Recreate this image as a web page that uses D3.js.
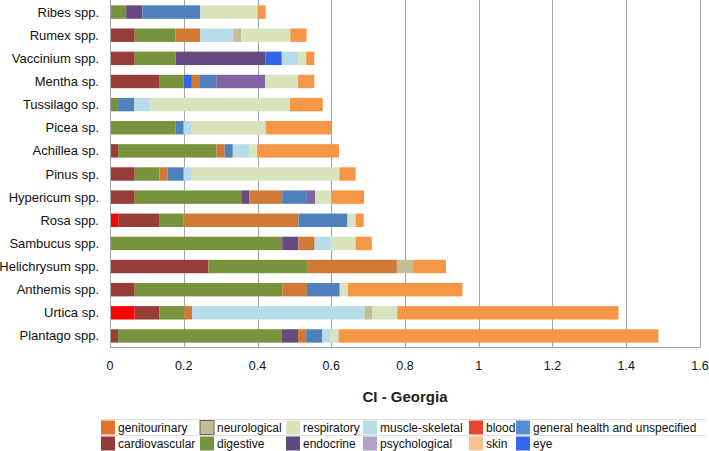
<!DOCTYPE html>
<html>
<head>
<meta charset="utf-8">
<script src="https://cdn.jsdelivr.net/npm/d3@7"></script>
<style>
  html, body { margin: 0; padding: 0; background: #fff; }
  svg { display: block; font-family: "Liberation Sans", Arial, Helvetica, sans-serif; }
</style>
</head>
<body>
<svg id="chart" width="709" height="451"></svg>
<script>
// ---- Data ----
const categories = ["Ribes spp.", "Rumex spp.", "Vaccinium spp.", "Mentha sp.", "Tussilago sp.",
  "Picea sp.", "Achillea sp.", "Pinus sp.", "Hypericum spp.", "Rosa spp.", "Sambucus spp.",
  "Helichrysum spp.", "Anthemis spp.", "Urtica sp.", "Plantago spp."];

const blood          = [0, 0, 0, 0, 0, 0, 0, 0, 0, 0.022, 0, 0, 0, 0.067, 0];
const cardiovascular = [0, 0.067, 0.067, 0.133, 0, 0, 0.022, 0.067, 0.067, 0.111, 0, 0.267, 0.067, 0.067, 0.022];
const digestive      = [0.044, 0.111, 0.111, 0.067, 0.022, 0.178, 0.267, 0.067, 0.289, 0.067, 0.467, 0.267, 0.4, 0.067, 0.444];
const endocrine      = [0.044, 0, 0.244, 0, 0, 0, 0, 0, 0.022, 0, 0.044, 0, 0, 0, 0.044];
const eye            = [0, 0, 0.044, 0.022, 0, 0, 0, 0, 0, 0, 0, 0, 0, 0, 0];
const genitourinary  = [0, 0.067, 0, 0.022, 0, 0, 0.022, 0.022, 0.089, 0.311, 0.044, 0.244, 0.067, 0.022, 0.022];
const generalHealth  = [0.156, 0, 0, 0.044, 0.044, 0.022, 0.022, 0.044, 0.067, 0.133, 0, 0, 0.089, 0, 0.044];
const psychological  = [0, 0, 0, 0.133, 0, 0, 0, 0, 0.022, 0, 0, 0, 0, 0, 0];
const muscleSkeletal = [0, 0.089, 0.044, 0, 0.044, 0.022, 0.044, 0.022, 0, 0, 0.044, 0, 0, 0.467, 0.022];
const neurological   = [0, 0.022, 0, 0, 0, 0, 0, 0, 0, 0, 0, 0.044, 0, 0.022, 0];
const respiratory    = [0.156, 0.133, 0.022, 0.089, 0.378, 0.2, 0.022, 0.4, 0.044, 0.022, 0.067, 0, 0.022, 0.067, 0.022];
const skin           = [0.022, 0.044, 0.022, 0.044, 0.089, 0.178, 0.222, 0.044, 0.089, 0.022, 0.044, 0.089, 0.311, 0.6, 0.867];

const xTicks = [0, 0.2, 0.4, 0.6, 0.8, 1, 1.2, 1.4, 1.6];
const xTickLabels = ["0", "0.2", "0.4", "0.6", "0.8", "1", "1.2", "1.4", "1.6"];
const axisTitle = "CI - Georgia";

// stacking order (left to right)
const seriesKeys = ["blood", "cardiovascular", "digestive", "endocrine", "eye", "genitourinary",
  "general health and unspecified", "psychological", "muscle-skeletal", "neurological", "respiratory", "skin"];
const seriesValues = {
  "blood": blood, "cardiovascular": cardiovascular, "digestive": digestive, "endocrine": endocrine,
  "eye": eye, "genitourinary": genitourinary, "general health and unspecified": generalHealth,
  "psychological": psychological, "muscle-skeletal": muscleSkeletal, "neurological": neurological,
  "respiratory": respiratory, "skin": skin
};

// legend layout (two rows as in the reference)
const legendRow1 = ["genitourinary", "neurological", "respiratory", "muscle-skeletal", "blood", "general health and unspecified"];
const legendRow2 = ["cardiovascular", "digestive", "endocrine", "psychological", "skin", "eye"];

// ---- Styles ----
const barColor = {
  "blood": "#FF0000", "cardiovascular": "#993D3B", "digestive": "#77933C", "endocrine": "#654A80",
  "eye": "#3366E6", "genitourinary": "#D07A36", "general health and unspecified": "#4F81BD",
  "psychological": "#8064A2", "muscle-skeletal": "#B7DEE8", "neurological": "#C4BD97",
  "respiratory": "#D7E4BD", "skin": "#F79646"
};
const legendColor = {
  "blood": "#E8452E", "cardiovascular": "#9A3A38", "digestive": "#77933C", "endocrine": "#5F4A7F",
  "eye": "#3366EE", "genitourinary": "#E8702E", "general health and unspecified": "#558ED5",
  "psychological": "#B3A2C7", "muscle-skeletal": "#B7DEE8", "neurological": "#C4BC96",
  "respiratory": "#D7E4BD", "skin": "#FAC090"
};

const svg = d3.select("#chart");
const x0 = 110, x1 = 700, yTop = 0, yBot = 347;

const x = d3.scaleLinear().domain([0, 1.6]).range([x0, x1]);
const y = d3.scaleBand().domain(categories).range([yTop + 0.5, yBot + 0.5])
  .paddingInner(0.42).paddingOuter(0.21);

// table for the stack
const table = categories.map((c, i) => {
  const row = { category: c };
  seriesKeys.forEach(k => row[k] = seriesValues[k][i]);
  return row;
});
const stacked = d3.stack().keys(seriesKeys)(table);

// gridlines
svg.append("g").selectAll("line").data(xTicks.slice(1)).join("line")
  .attr("x1", d => Math.round(x(d)) + 0.5).attr("x2", d => Math.round(x(d)) + 0.5)
  .attr("y1", yTop).attr("y2", yBot)
  .attr("stroke", "#A6A6A6").attr("stroke-width", 1);

// bars
const gBars = svg.append("g");
stacked.forEach(layer => {
  gBars.append("g").attr("fill", barColor[layer.key])
    .selectAll("rect").data(layer.filter(d => d[1] - d[0] > 0)).join("rect")
    .attr("x", d => x(d[0]))
    .attr("width", d => x(d[1]) - x(d[0]))
    .attr("y", d => y(d.data.category))
    .attr("height", y.bandwidth());
});

// axes lines
svg.append("line").attr("x1", x0 + 0.5).attr("x2", x0 + 0.5).attr("y1", yTop).attr("y2", yBot + 0.5)
  .attr("stroke", "#A6A6A6");
svg.append("line").attr("x1", x0).attr("x2", x1 + 1).attr("y1", yBot + 0.5).attr("y2", yBot + 0.5)
  .attr("stroke", "#A6A6A6");

// category labels
svg.append("g").selectAll("text").data(categories).join("text")
  .attr("x", 99).attr("y", d => y(d) + y.bandwidth() / 2)
  .attr("dy", "0.35em").attr("text-anchor", "end")
  .attr("font-size", 13).attr("fill", "#111").text(d => d);

// x tick labels
svg.append("g").selectAll("text").data(xTicks).join("text")
  .attr("x", d => x(d)).attr("y", 370)
  .attr("text-anchor", "middle").attr("font-size", 12.5).attr("fill", "#111")
  .text((d, i) => xTickLabels[i]);

// axis title
svg.append("text").attr("x", (x0 + x1) / 2).attr("y", 402)
  .attr("text-anchor", "middle").attr("font-size", 15).attr("font-weight", "bold")
  .attr("fill", "#222").text(axisTitle);

// legend
const colX = [101, 200, 286, 363, 469, 516];
const rowY = [420, 436];
const lg = svg.append("g");
[419.5, 435.5, 451.5].forEach(yy => {
  lg.append("line").attr("x1", 100).attr("x2", 706).attr("y1", yy).attr("y2", yy)
    .attr("stroke", "#E0E0E0");
});
[legendRow1, legendRow2].forEach((row, ri) => {
  row.forEach((name, ci) => {
    lg.append("rect").attr("x", colX[ci]).attr("y", rowY[ri] + 0.5)
      .attr("width", 14).attr("height", 14)
      .attr("fill", legendColor[name])
      .attr("stroke", name === "neurological" ? "#6E6650" : "none").attr("stroke-width", 1);
    lg.append("text").attr("x", colX[ci] + 17).attr("y", rowY[ri] + 7.5)
      .attr("dy", "0.35em").attr("font-size", 12).attr("fill", "#111").text(name);
  });
});
</script>
</body>
</html>
